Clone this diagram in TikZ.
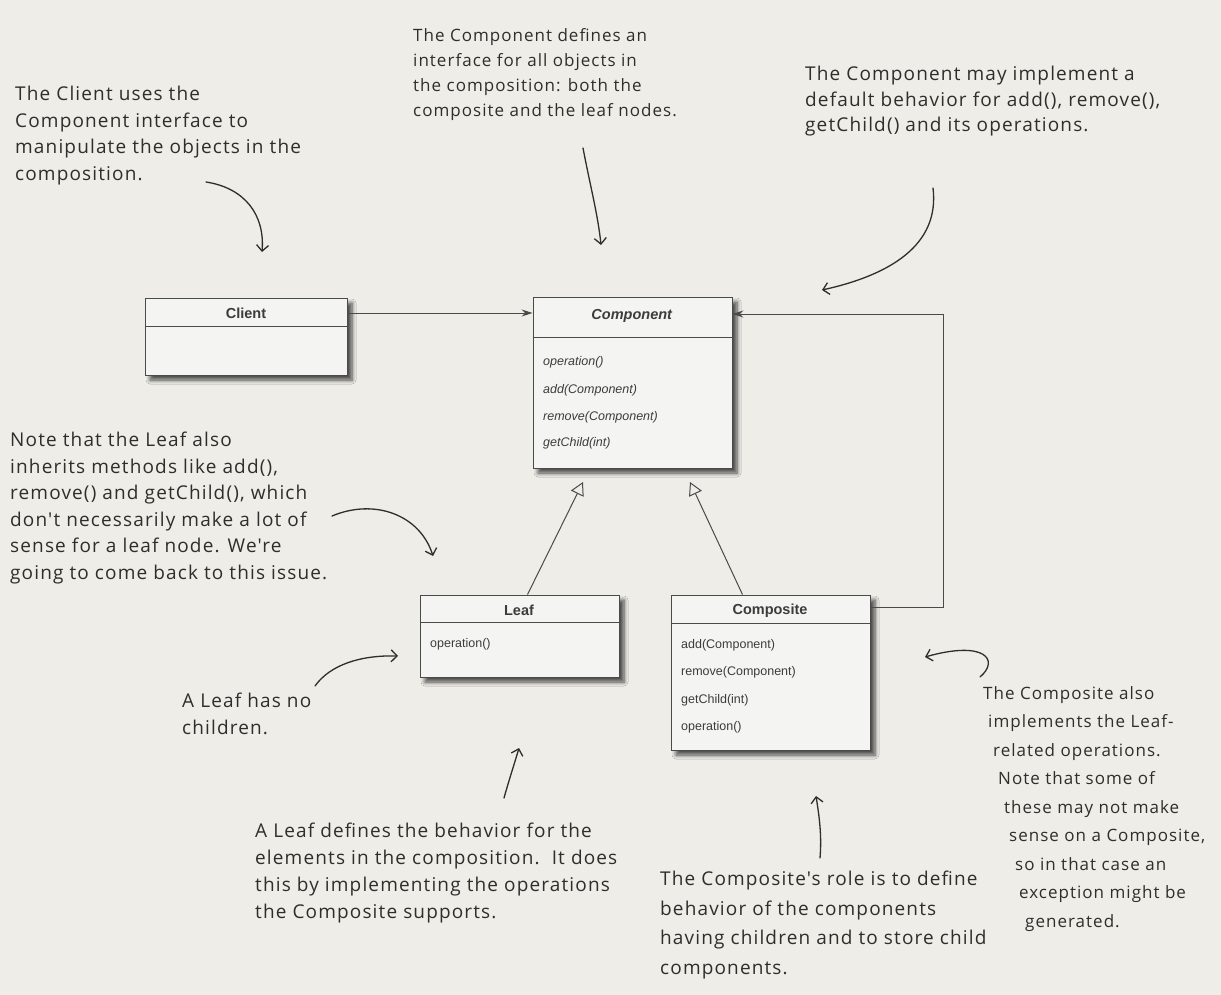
\documentclass[tikz,border=0pt]{standalone}
\usepackage{fontspec}
\setmainfont{Liberation Sans}
\newfontfamily\manofont[LetterSpace=6]{Open Sans}
\usetikzlibrary{arrows.meta, positioning, calc, shadows.blur}
\definecolor{papel}{HTML}{EEEDE8}
\definecolor{tinta}{HTML}{2E2E2C}
\definecolor{tinta2}{HTML}{3C3C3C}
\definecolor{borde}{HTML}{4A4A4A}
\definecolor{caja}{HTML}{F4F4F2}
\tikzset{
  clase/.style={rectangle, draw=borde, line width=0.9pt, fill=caja, minimum width=199pt,
                blur shadow={shadow xshift=5pt, shadow yshift=-5pt, shadow blur radius=4pt,
                             shadow blur steps=6, shadow opacity=70}},
  titulo/.style={font=\fontsize{14.5}{16}\selectfont\bfseries, text=tinta2, inner sep=0pt},
  metodo/.style={font=\fontsize{12.5}{14}\selectfont, text=tinta2, anchor=west, inner sep=0pt},
  nota/.style={font=\manofont\fontsize{19}{26.5}\selectfont, text=tinta, align=left,
               anchor=north west, inner sep=0pt},
  mano/.style={line width=1.3pt, color=tinta, line cap=round,
               -{Straight Barb[length=6pt,width=12pt]}},
  asoc/.style={line width=1pt, color=borde, -{Stealth[length=11pt,width=7pt]}},
  hereda/.style={line width=1pt, color=borde, -{Triangle[open,length=13pt,width=14pt]}},
  linea/.style={line width=0.9pt, color=borde}
}

\begin{document}
\begin{tikzpicture}[x=1pt, y=-1pt]
  \fill [papel] (0,0) rectangle (1221,995);
  \useasboundingbox (0,0) rectangle (1221,995);

  \node (cliente) [clase, minimum width=202pt, minimum height=77pt] at (246,336.5) {};
  \node (comp) [clase, minimum height=171pt] at (632.5,382.5) {};
  \node (hoja) [clase, minimum height=82pt] at (519.5,636) {};
  \node (compo) [clase, minimum height=155pt] at (770.5,672.5) {};

  \draw [linea] ($(cliente.north west)+(0,29)$) -- ($(cliente.north east)+(0,29)$);
  \draw [linea] ($(comp.north west)+(0,41)$) -- ($(comp.north east)+(0,41)$);
  \draw [linea] ($(hoja.north west)+(0,28)$) -- ($(hoja.north east)+(0,28)$);
  \draw [linea] ($(compo.north west)+(0,29)$) -- ($(compo.north east)+(0,29)$);

  \node (clientet) [titulo] at (246,313) {Client};
  \node (compt) [titulo] at (632,316) {\textit{Component}};
  \node (hojat) [titulo] at (519,610) {Leaf};
  \node (compot) [titulo] at (770,611) {Composite};

  \node (m1) [metodo] at (543,362) {\textit{operation()}};
  \node (m2) [metodo] at (543,390) {\textit{add(Component)}};
  \node (m3) [metodo] at (543,417) {\textit{remove(Component)}};
  \node (m4) [metodo] at (543,443) {\textit{getChild(int)}};
  \node (h1) [metodo] at (430,644) {operation()};
  \node (c1) [metodo] at (681,645) {add(Component)};
  \node (c2) [metodo] at (681,672) {remove(Component)};
  \node (c3) [metodo] at (681,700) {getChild(int)};
  \node (c4) [metodo] at (681,727) {operation()};

  \draw [asoc] (cliente.east |- clientet) -- (comp.west |- clientet);
  \coordinate (codo) at (943,314);
  \draw [asoc] ($(compo.north east)+(0,13)$) -| (codo) -- (codo -| comp.east);
  \coordinate (punta1) at (583,482);
  \coordinate (punta2) at (690,482);
  \draw [hereda] ($(hoja.north)+(8,0)$) -- (punta1);
  \draw [hereda] ($(compo.north)+(-28,0)$) -- (punta2);

  \node (n1) [nota] at (15,86) {The Client uses the\\Component interface to\\manipulate the objects in the\\composition.};
  \node (n2) [nota, font=\manofont\fontsize{17}{25}\selectfont] at (413,28) {The Component defines an\\interface for all objects in\\the composition: both the\\composite and the leaf nodes.};
  \node (n3) [nota, font=\manofont\fontsize{19}{25.5}\selectfont] at (805,66) {The Component may implement a\\default behavior for add(), remove(),\\getChild() and its operations.};
  \node (n4) [nota] at (10,432) {Note that the Leaf also\\inherits methods like add(),\\remove() and getChild(), which\\don't necessarily make a lot of\\sense for a leaf node. We're\\going to come back to this issue.};
  \node (n5) [nota] at (182,693) {A Leaf has no\\children.};
  \node (n6) [nota, font=\manofont\fontsize{19}{27}\selectfont] at (255,823) {A Leaf defines the behavior for the\\elements in the composition.\ \ It does\\this by implementing the operations\\the Composite supports.};
  \node (n7) [nota, font=\manofont\fontsize{19}{29.5}\selectfont] at (660,871) {The Composite's role is to define\\behavior of the components\\having children and to store child\\components.};
  \node (n8) [nota, font=\manofont\fontsize{17}{28.5}\selectfont] at (983,686) {The Composite also\\\hspace*{5pt}implements the Leaf-\\\hspace*{10pt}related operations.\\\hspace*{15pt}Note that some of\\\hspace*{21pt}these may not make\\\hspace*{26pt}sense on a Composite,\\\hspace*{32pt}so in that case an\\\hspace*{36pt}exception might be\\\hspace*{42pt}generated.};

  \coordinate (a1) at (206,182);  \coordinate (b1) at (262,252);
  \coordinate (a2) at (583,148);  \coordinate (b2) at (601,245);
  \coordinate (a3) at (933,188);  \coordinate (b3) at (822,290);
  \coordinate (a4) at (332,516);  \coordinate (b4) at (433,556);
  \coordinate (a5) at (315,686);  \coordinate (b5) at (398,656);
  \coordinate (a6) at (504,798);  \coordinate (b6) at (519,748);
  \coordinate (a7) at (820,858);  \coordinate (b7) at (816,796);
  \coordinate (a8) at (980,677);  \coordinate (b8) at (925,657);
  \draw [mano] (a1) .. controls (245,188) and (265,215) .. (b1);
  \draw [mano] (a2) .. controls (590,185) and (598,215) .. (b2);
  \draw [mano] (a3) .. controls (940,245) and (890,275) .. (b3);
  \draw [mano] (a4) .. controls (375,498) and (420,515) .. (b4);
  \draw [mano] (a5) .. controls (330,665) and (360,655) .. (b5);
  \draw [mano] (a6) .. controls (509,780) and (514,765) .. (b6);
  \draw [mano] (a7) .. controls (822,835) and (819,815) .. (b7);
  \draw [mano] (a8) .. controls (1000,660) and (985,640) .. (b8);
\end{tikzpicture}
\end{document}
